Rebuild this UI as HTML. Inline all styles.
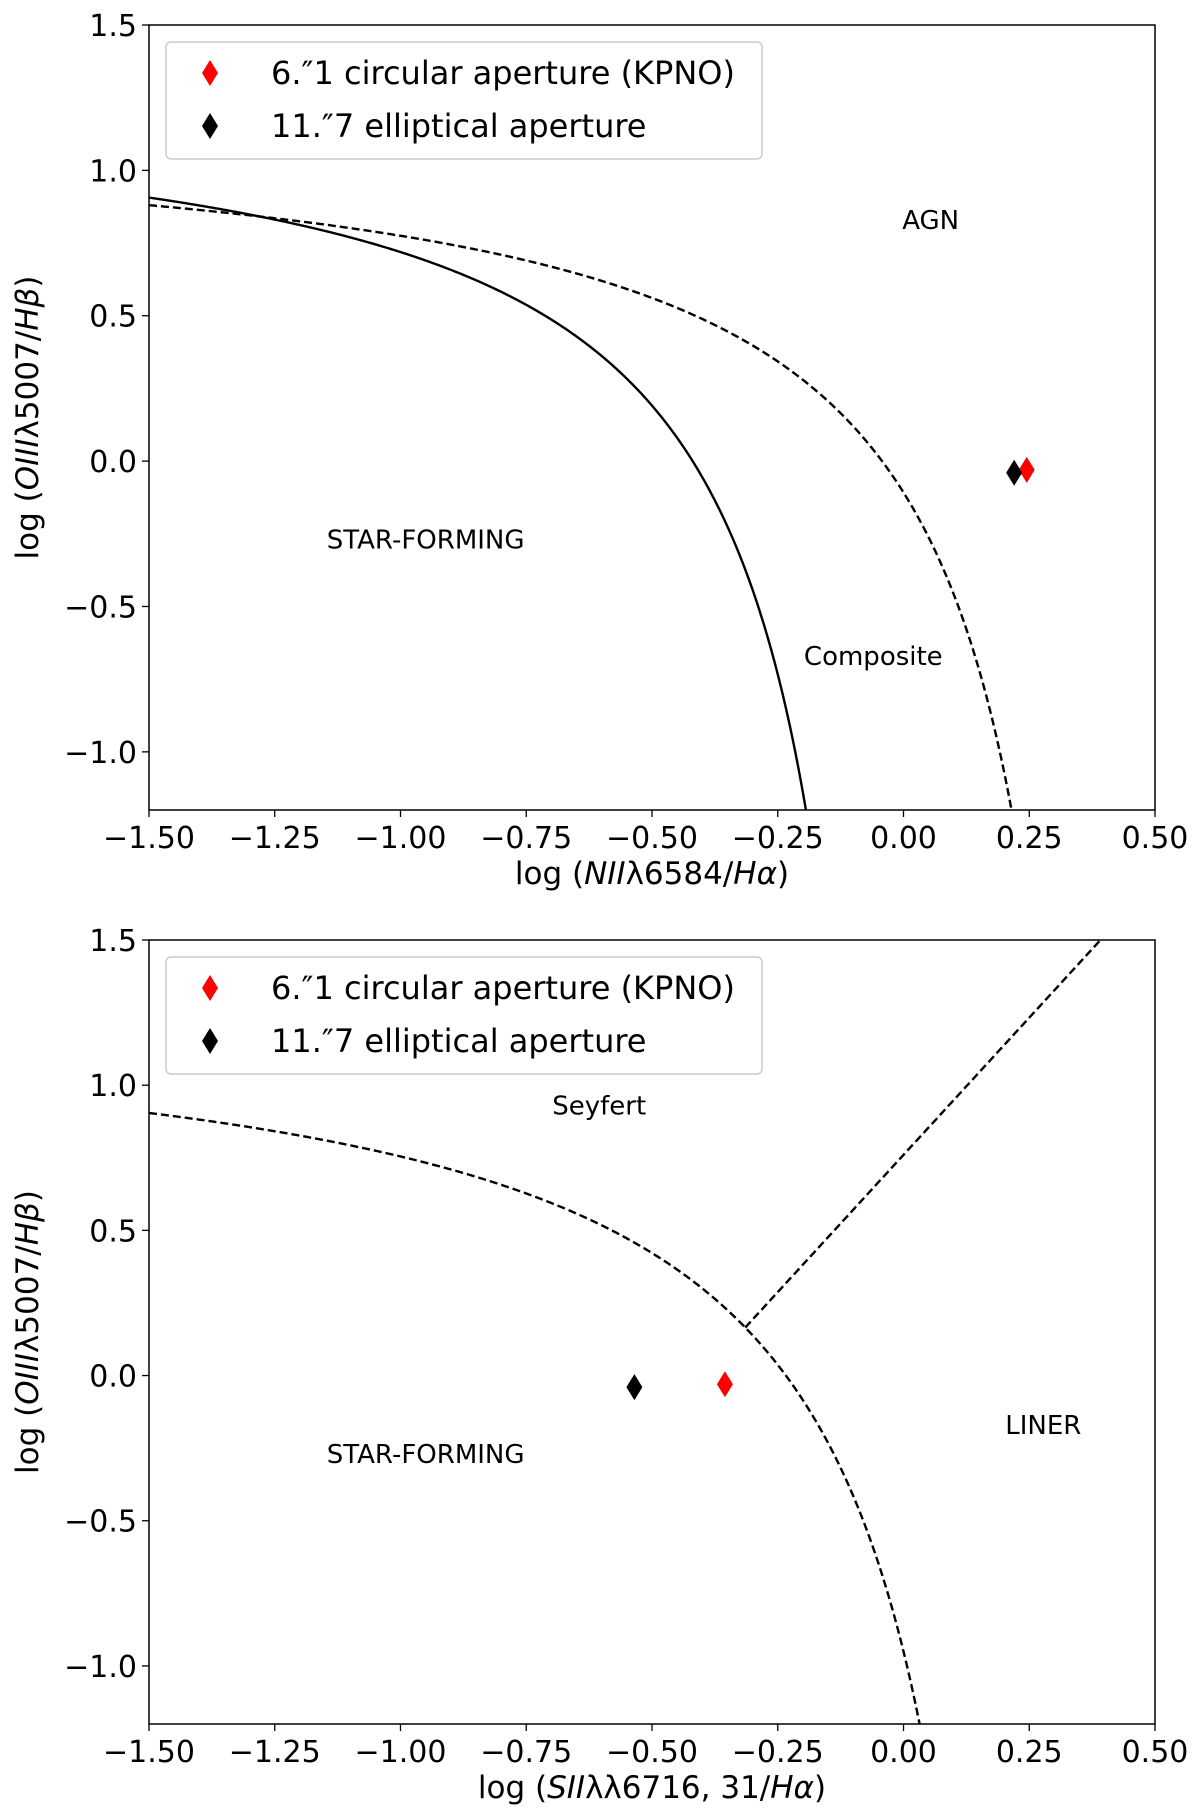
<!DOCTYPE html>
<html><head><meta charset="utf-8">
<style>
html,body{margin:0;padding:0;background:#fff;overflow:hidden;width:1200px;height:1819px;}
svg{display:block;font-family:"DejaVu Sans","Liberation Sans",sans-serif;}
</style></head>
<body>
<svg id="chart" width="1200" height="1819" viewBox="0 0 1200 1819"></svg>
<script>
// ---- data ----
const xTicks = [-1.5, -1.25, -1.0, -0.75, -0.5, -0.25, 0.0, 0.25, 0.5];
const xTickLabels = ["\u22121.50","\u22121.25","\u22121.00","\u22120.75","\u22120.50","\u22120.25","0.00","0.25","0.50"];
const yTicks = [1.5, 1.0, 0.5, 0.0, -0.5, -1.0];
const yTickLabels = ["1.5","1.0","0.5","0.0","\u22120.5","\u22121.0"];
const xDomain = [-1.5, 0.5];
const yDomain = [-1.2, 1.5];
// demarcation coefficients: y = a/(x-b)+c
const kauffmannNII = [0.61, 0.05, 1.3];
const kewleyNII = [0.61, 0.47, 1.19];
const kewleySII = [0.72, 0.32, 1.30];
// LINER/Seyfert line y = m*x + k
const linerSII = [1.89, 0.76];
// observed points [x, y]
const nii_red = [0.245, -0.03];
const nii_black = [0.22, -0.04];
const sii_red = [-0.355, -0.03];
const sii_black = [-0.535, -0.04];
const legendLabels = ["6.\u20331 circular aperture (KPNO)", "11.\u20337 elliptical aperture"];

const svg = document.getElementById('chart');
const NS = 'http://www.w3.org/2000/svg';
function mk(tag, attrs, parent){ const e=document.createElementNS(NS,tag); for(const k in attrs) e.setAttribute(k,attrs[k]); (parent||svg).appendChild(e); return e; }

function panel(top, bottom, name, xlabelHTML, curves, points, labels){
  const L=149, R=1155;
  const g = mk('g',{});
  
  
  const sx = v => L + (v - xDomain[0])/(xDomain[1]-xDomain[0])*(R-L);
  const sy = v => bottom - (v - yDomain[0])/(yDomain[1]-yDomain[0])*(bottom-top);
  const cid = 'clip-'+name;
  const cp = mk('clipPath',{id:cid},g); mk('rect',{x:L,y:top,width:R-L,height:bottom-top},cp);
  curves.forEach(c=>{
    const pts=[];
    for(let i=0;i<=600;i++){
      const x = c.x0 + (c.x1-c.x0)*i/600;
      const y = c.f(x);
      if(!isFinite(y)) continue;
      pts.push(sx(x).toFixed(2)+','+sy(y).toFixed(2));
    }
    const p = mk('polyline',{points:pts.join(' '),fill:'none',stroke:'#000','stroke-width':2.4,'clip-path':'url(#'+cid+')'},g);
    if(c.dash) p.setAttribute('stroke-dasharray','8,4');
    
    
  });
  const fr = mk('rect',{x:L,y:top,width:R-L,height:bottom-top,fill:'none',stroke:'#000','stroke-width':1.5},g);
  
  
  xTicks.forEach((t,i)=>{
    const x=sx(t);
    mk('line',{x1:x,x2:x,y1:bottom,y2:bottom+7,stroke:'#000','stroke-width':1.3},g);
    const tx = mk('text',{x:x,y:bottom+38,'text-anchor':'middle','font-size':30},g);
    tx.textContent = xTickLabels[i];
    
    
  });
  yTicks.forEach((t,i)=>{
    const y=sy(t);
    mk('line',{x1:L-7,x2:L,y1:y,y2:y,stroke:'#000','stroke-width':1.3},g);
    const tx = mk('text',{x:L-12,y:y+11,'text-anchor':'end','font-size':30},g);
    tx.textContent = yTickLabels[i];
    
    
  });
  const xl = mk('text',{x:(L+R)/2,y:bottom+74,'text-anchor':'middle','font-size':31},g);
  xl.innerHTML = xlabelHTML;
  
  
  const cy=(top+bottom)/2;
  const yl = mk('text',{x:38,y:cy,'text-anchor':'middle','font-size':31,transform:'rotate(-90 38 '+cy+')'},g);
  yl.innerHTML = 'log (<tspan font-style="italic">OIII</tspan>\u03bb5007/<tspan font-style="italic">H\u03b2</tspan>)';
  
  
  labels.forEach(lb=>{
    const t = mk('text',{x:sx(lb[1]),y:sy(lb[2])+9,'text-anchor':'middle','font-size':26},g);
    t.textContent = lb[0];
    
    
  });
  points.forEach(p=>{
    const x=sx(p.v[0]), y=sy(p.v[1]);
    const d = mk('polygon',{points:`${x},${y-13} ${x+8},${y} ${x},${y+13} ${x-8},${y}`,fill:p.c},g);
    
    
  });
  const lg = mk('g',{},g);
  
  
  mk('rect',{x:166,y:top+17,width:596,height:117,rx:5,fill:'#fff',stroke:'#ccc','stroke-width':1.5},lg);
  const cols=['#ff0000','#000'];
  [0,1].forEach(i=>{
    const y=top+48+i*53, x=210;
    const m=mk('polygon',{points:`${x},${y-13} ${x+8},${y} ${x},${y+13} ${x-8},${y}`,fill:cols[i]},lg);
    
    
    const t=mk('text',{x:271,y:y+11,'font-size':32},lg);
    t.textContent = legendLabels[i];
    
    
  });
}

const hyp = c => x => c[0]/(x-c[1])+c[2];
let xi=-0.31; for(let i=0;i<60;i++){ const f=hyp(kewleySII)(xi)-(linerSII[0]*xi+linerSII[1]); const h=1e-5; const f2=hyp(kewleySII)(xi+h)-(linerSII[0]*(xi+h)+linerSII[1]); xi-= f/((f2-f)/h); }

panel(25, 810, 'nii-bpt-panel',
  'log (<tspan font-style="italic">NII</tspan>\u03bb6584/<tspan font-style="italic">H\u03b1</tspan>)',
  [{name:'kauffmann-line',f:hyp(kauffmannNII),x0:-1.5,x1:kauffmannNII[1]-0.02,dash:false},
   {name:'kewley-line',f:hyp(kewleyNII),x0:-1.5,x1:kewleyNII[1]-0.02,dash:true}],
  [{name:'point-circular-kpno',v:nii_red,c:'#ff0000'},{name:'point-elliptical',v:nii_black,c:'#000'}],
  [['AGN',0.054,0.83],['STAR-FORMING',-0.95,-0.27],['Composite',-0.06,-0.67]]);

panel(940, 1724, 'sii-bpt-panel',
  'log (<tspan font-style="italic">SII</tspan>\u03bb\u03bb6716, 31/<tspan font-style="italic">H\u03b1</tspan>)',
  [{name:'kewley-sii-line',f:hyp(kewleySII),x0:-1.5,x1:kewleySII[1]-0.02,dash:true},
   {name:'liner-seyfert-line',f:x=>linerSII[0]*x+linerSII[1],x0:xi,x1:0.5,dash:true}],
  [{name:'point-circular-kpno',v:sii_red,c:'#ff0000'},{name:'point-elliptical',v:sii_black,c:'#000'}],
  [['Seyfert',-0.605,0.93],['STAR-FORMING',-0.95,-0.27],['LINER',0.278,-0.17]]);
</script>
</body></html>
